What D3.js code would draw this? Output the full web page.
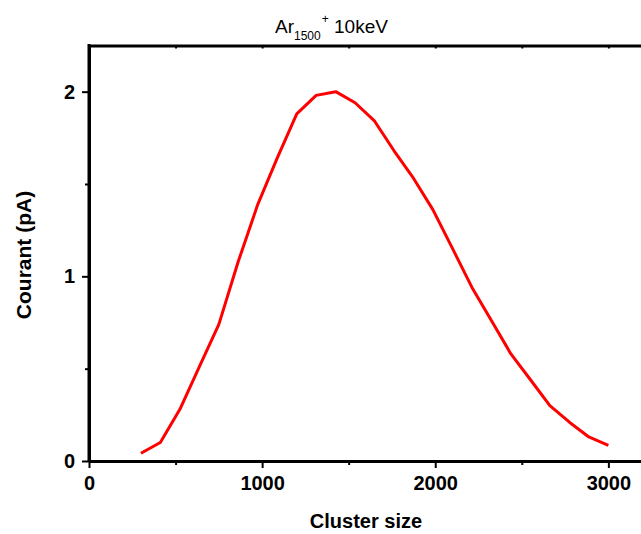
<!DOCTYPE html>
<html>
<head>
<meta charset="utf-8">
<script src="https://cdnjs.cloudflare.com/ajax/libs/d3/7.8.5/d3.min.js"></script>
<style>
  body { margin: 0; background: #fff; }
  svg { display: block; font-family: "Liberation Sans", Arial, sans-serif; }
  .axis text { font-size: 20px; font-weight: bold; fill: #000; }
  .axis .domain { stroke: #000; stroke-width: 3; }
  .axis line { stroke: #000; stroke-width: 2; }
</style>
</head>
<body>
<script>
// cluster size (atoms) and measured current (pA)
var clusterSize = [300, 412, 525, 637, 750, 862, 975, 1087, 1200, 1312, 1425, 1537, 1650,
                   1762, 1875, 1987, 2100, 2212, 2325, 2437, 2550, 2662, 2775, 2887, 3000];
var courant = [0.042, 0.10, 0.28, 0.51, 0.74, 1.08, 1.39, 1.64, 1.88, 1.98, 2.00, 1.94, 1.84,
               1.68, 1.53, 1.36, 1.15, 0.94, 0.76, 0.58, 0.44, 0.30, 0.21, 0.13, 0.085];

var xMajor = [0, 1000, 2000, 3000];
var xMinor = [500, 1500, 2500];
var yMajor = [0, 1, 2];
var yMinor = [0.5, 1.5];

var W = 641, H = 534;
var plotLeft = 89, plotRight = 643, plotTop = 45.5, plotBottom = 461;

var svg = d3.select("body").append("svg")
    .attr("width", W)
    .attr("height", H);

var x = d3.scaleLinear().domain([0, 3200]).range([plotLeft, plotRight]);
var y = d3.scaleLinear().domain([0, 2.25]).range([plotBottom, plotTop]);

// minor ticks first so the main axes sit on top
svg.append("g")
    .attr("class", "axis")
    .attr("transform", "translate(0," + plotBottom + ")")
    .call(d3.axisBottom(x).tickValues(xMinor).tickSize(4).tickSizeOuter(0).tickFormat(""))
    .select(".domain").remove();

svg.append("g")
    .attr("class", "axis")
    .attr("transform", "translate(" + plotLeft + ",0)")
    .call(d3.axisLeft(y).tickValues(yMinor).tickSize(4).tickSizeOuter(0).tickFormat(""))
    .select(".domain").remove();

// top frame with small inward ticks
svg.append("g")
    .attr("class", "axis")
    .attr("transform", "translate(0," + plotTop + ")")
    .call(d3.axisTop(x).tickValues(xMajor.concat(xMinor)).tickSize(-3).tickSizeOuter(0).tickFormat(""));

svg.append("g")
    .attr("class", "axis")
    .attr("transform", "translate(0," + plotBottom + ")")
    .call(d3.axisBottom(x).tickValues(xMajor).tickSize(7).tickSizeOuter(0).tickPadding(8).tickFormat(d3.format("d")));

svg.append("g")
    .attr("class", "axis")
    .attr("transform", "translate(" + plotLeft + ",0)")
    .call(d3.axisLeft(y).tickValues(yMajor).tickSize(7).tickSizeOuter(0).tickPadding(7).tickFormat(d3.format("d")));

// extend left axis line to the top frame
svg.append("line")
    .attr("x1", plotLeft).attr("x2", plotLeft)
    .attr("y1", plotTop - 1.5).attr("y2", plotBottom)
    .attr("stroke", "#000").attr("stroke-width", 3);

// data curve
var line = d3.line()
    .x(function(d, i) { return x(clusterSize[i]); })
    .y(function(d) { return y(d); });

svg.append("path")
    .datum(courant)
    .attr("d", line)
    .attr("fill", "none")
    .attr("stroke", "#ff0000")
    .attr("stroke-width", 3)
    .attr("stroke-linejoin", "round");

// axis titles
svg.append("text")
    .attr("x", 366)
    .attr("y", 528)
    .attr("text-anchor", "middle")
    .style("font-size", "20px")
    .style("font-weight", "bold")
    .text("Cluster size");

svg.append("text")
    .attr("transform", "translate(31,255) rotate(-90)")
    .attr("text-anchor", "middle")
    .style("font-size", "21px")
    .style("font-weight", "bold")
    .text("Courant (pA)");

// title
var title = svg.append("text")
    .attr("x", 275)
    .attr("y", 33)
    .style("font-size", "19px");
title.append("tspan").text("Ar");
title.append("tspan").attr("dy", 7).style("font-size", "12px").text("1500");
title.append("tspan").attr("dy", -17).attr("dx", 1).style("font-size", "12px").text("+");
title.append("tspan").attr("dy", 10).text(" 10keV");
</script>
</body>
</html>
